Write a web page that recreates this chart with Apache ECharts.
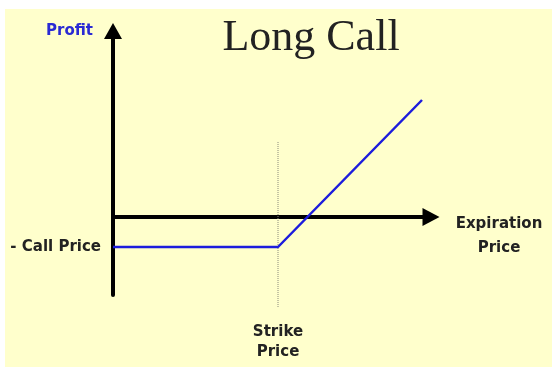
<!DOCTYPE html>
<html>
<head>
<meta charset="utf-8">
<script src="https://cdn.jsdelivr.net/npm/echarts@6/dist/echarts.min.js"></script>
<style>
  html, body { margin: 0; padding: 0; background: #ffffff; }
  #chart { width: 552px; height: 367px; }
</style>
</head>
<body>
<div id="chart"></div>
<script>
// Long call payoff at expiration: flat loss of the premium below the strike,
// rising one-for-one above it.
const strikePrice = 55;
const callPrice = 10;
const payoffPoints = [[0, -10], [55, -10], [103, 39]];
const strikeGuide = [[55, 25], [55, -30]];
const priceRange = [0, 106];
const profitRange = [-26, 62];

const labelFont = 'DejaVu Sans';

const chart = echarts.init(document.getElementById('chart'), null, { renderer: 'canvas' });

chart.setOption({
  backgroundColor: '#ffffff',
  animation: false,
  graphic: [{
    type: 'rect',
    z: -10,
    silent: true,
    shape: { x: 5, y: 9, width: 547, height: 358 },
    style: { fill: '#ffffcc' }
  }],
  title: {
    text: 'Long Call',
    left: 306,
    top: 11,
    textAlign: 'center',
    textStyle: {
      fontFamily: 'Liberation Serif',
      fontSize: 44,
      fontWeight: 'normal',
      color: '#222222'
    }
  },
  grid: {
    left: 113, right: 121, top: 31, bottom: 72,
    containLabel: false,
    outerBoundsMode: 'none'
  },
  xAxis: {
    type: 'value',
    min: priceRange[0],
    max: priceRange[1],
    // leading spacer line pushes the two-line name below the axis arrow
    name: '{s| }\n{a|Expiration}\n{a|Price}',
    nameLocation: 'end',
    nameGap: 68,
    nameTextStyle: {
      fontFamily: labelFont,
      fontWeight: 'bold',
      fontSize: 15,
      color: '#222222',
      align: 'center',
      verticalAlign: 'middle',
      rich: {
        s: { lineHeight: 38, fontSize: 15 },
        a: {
          lineHeight: 24,
          fontFamily: labelFont,
          fontWeight: 'bold',
          fontSize: 15,
          color: '#222222',
          align: 'center'
        }
      }
    },
    axisLine: {
      onZero: true,
      symbol: ['none', 'triangle'],
      symbolSize: [18, 17],
      lineStyle: { color: '#000000', width: 4 }
    },
    axisTick: { show: false },
    splitLine: { show: false },
    axisLabel: {
      customValues: [strikePrice],
      formatter: () => 'Strike\nPrice',
      margin: 27,
      fontFamily: labelFont,
      fontWeight: 'bold',
      fontSize: 15,
      lineHeight: 20,
      color: '#222222'
    }
  },
  yAxis: {
    type: 'value',
    min: profitRange[0],
    max: profitRange[1],
    name: 'Profit',
    nameLocation: 'end',
    nameGap: 0,
    nameTextStyle: {
      fontFamily: labelFont,
      fontWeight: 'bold',
      fontSize: 15,
      color: '#2a2ad4',
      align: 'right',
      verticalAlign: 'middle',
      padding: [4, 20, 0, 0]
    },
    axisLine: {
      symbol: ['none', 'triangle'],
      symbolSize: [18, 16],
      lineStyle: { color: '#000000', width: 4 }
    },
    axisTick: { show: false },
    splitLine: { show: false },
    axisLabel: {
      customValues: [-callPrice],
      formatter: () => '- Call Price',
      margin: 12,
      fontFamily: labelFont,
      fontWeight: 'bold',
      fontSize: 15,
      color: '#222222'
    }
  },
  series: [
    {
      name: 'Strike',
      type: 'line',
      data: strikeGuide,
      clip: false,
      symbol: 'none',
      silent: true,
      z: 1,
      lineStyle: { color: '#8a8a7a', width: 1, type: 'dotted' }
    },
    {
      name: 'Payoff',
      type: 'line',
      data: payoffPoints,
      symbol: 'none',
      clip: false,
      z: 3,
      lineStyle: { color: '#1c1cdc', width: 2.5 }
    }
  ]
});
</script>
</body>
</html>
